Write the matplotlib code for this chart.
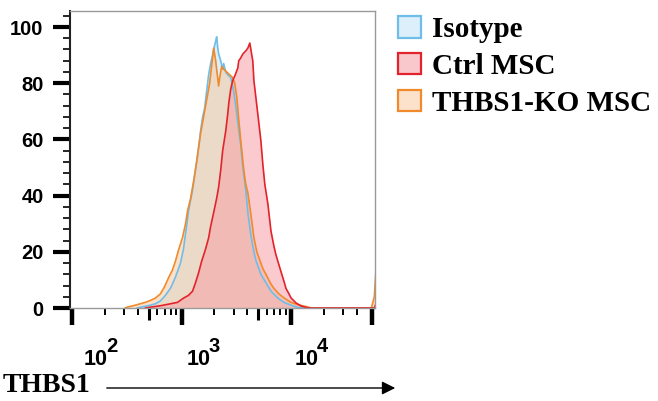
import numpy as np
import matplotlib
matplotlib.use("Agg")
import matplotlib.pyplot as plt
from matplotlib.patches import Patch
from matplotlib.ticker import FixedLocator, MultipleLocator, NullFormatter

# log10 of THBS1 intensity and % of max for each sample
iso_log = [2.596, 2.651, 2.716, 2.761, 2.807, 2.853, 2.899, 2.945, 2.991, 3.018,
           3.046, 3.064, 3.101, 3.128, 3.156, 3.174, 3.193, 3.211, 3.229, 3.248,
           3.266, 3.284, 3.294, 3.312, 3.321, 3.330, 3.339, 3.358, 3.376, 3.385,
           3.404, 3.422, 3.450, 3.477, 3.495, 3.514, 3.541, 3.560, 3.587, 3.606,
           3.633, 3.661, 3.679, 3.725, 3.771, 3.817, 3.881, 3.936, 4.000, 4.064,
           4.138, 4.760, 4.775]
iso_pct = [0, 0.5, 1, 1.5, 2.5, 4.5, 7, 11, 16, 21,
           29, 34.5, 42, 49, 57, 63, 68, 71, 77, 83,
           87, 90, 92, 95, 96.5, 93, 90.5, 88, 85, 87,
           84, 83, 82, 77, 72, 66, 58, 50, 42, 34,
           26, 20, 17, 12, 9, 6, 3.5, 2, 1, 0.2,
           0, 0, 0.5]

ko_log = [2.486, 2.505, 2.578, 2.624, 2.670, 2.716, 2.761, 2.807, 2.844, 2.881,
          2.917, 2.945, 2.972, 3.009, 3.037, 3.055, 3.083, 3.110, 3.138, 3.174,
          3.202, 3.220, 3.239, 3.257, 3.275, 3.294, 3.312, 3.330, 3.339, 3.349,
          3.367, 3.385, 3.413, 3.440, 3.468, 3.486, 3.505, 3.523, 3.541, 3.569,
          3.587, 3.606, 3.633, 3.661, 3.688, 3.706, 3.743, 3.771, 3.817, 3.844,
          3.890, 3.936, 4.000, 4.064, 4.138, 4.183, 4.734, 4.761, 4.775]
ko_pct = [0, 0.3, 1, 1.5, 2, 2.7, 3.5, 5, 7.5, 10.7,
          13.5, 16.7, 20.5, 25, 30, 34.5, 39, 45, 52, 62,
          68, 72, 76, 80, 86, 92.5, 88, 82, 79, 82,
          86, 85, 84, 83, 82, 80, 75, 67, 59.5, 49,
          44, 41, 33.5, 25, 20, 18, 14, 12, 8.5, 7,
          5, 3.6, 2, 1.2, 0.5, 0, 0, 4, 13]

ctrl_log = [2.670, 2.716, 2.807, 2.899, 2.963, 3.018, 3.064, 3.101, 3.128, 3.156,
            3.183, 3.220, 3.248, 3.266, 3.294, 3.321, 3.339, 3.358, 3.376, 3.404,
            3.422, 3.431, 3.450, 3.468, 3.486, 3.514, 3.523, 3.541, 3.560, 3.587,
            3.606, 3.624, 3.642, 3.651, 3.661, 3.679, 3.697, 3.725, 3.743, 3.761,
            3.789, 3.817, 3.844, 3.862, 3.908, 3.936, 3.954, 3.982, 4.000, 4.046,
            4.092, 4.138, 4.183, 4.761, 4.775]
ctrl_pct = [0, 0.3, 0.8, 1.5, 2, 3.5, 4.5, 6, 9, 12.5,
            16.5, 21, 25, 29, 34, 39, 43, 49, 56, 63,
            69, 72.6, 78, 81, 82.5, 85.4, 88, 89, 90.4, 91.5,
            92.5, 94.3, 90, 88, 81, 75, 69, 59.5, 51, 44,
            37, 27.4, 22, 19, 13, 9.5, 7, 5, 3.6, 1.8,
            0.7, 0.2, 0, 0, 1.5]

labels = ["Isotype", "Ctrl MSC", "THBS1-KO MSC"]
decades = [2, 3, 4]

line_cols = ["#6fbde9", "#e3232b", "#f08a2c"]
fill_cols = ["#bfe2f6", "#f7a0a6", "#f9c9a0"]
legend_faces = ["#ddeffa", "#f9c8cd", "#fde2cb"]

sans = "Liberation Sans"
serif = "Liberation Serif"

fig = plt.figure(figsize=(6.58, 4.01), dpi=100)
ax = fig.add_axes([70 / 658, 1 - 308 / 401, 305 / 658, 297 / 401])

series = [(iso_log, iso_pct), (ctrl_log, ctrl_pct), (ko_log, ko_pct)]
# fills first, ctrl fill on top
for i in [0, 2, 1]:
    x = 10 ** np.array(series[i][0])
    y = np.array(series[i][1])
    ax.fill_between(x, y, 0, color=fill_cols[i], alpha=0.55, lw=0)
for i in [0, 2, 1]:
    x = 10 ** np.array(series[i][0])
    ax.plot(x, series[i][1], color=line_cols[i], lw=1.2)

ax.set_xscale("log")
ax.set_xlim(10 ** (2 - 2 / 109.5), 10 ** (2 + 303 / 109.5))
ax.set_ylim(0, 105.7)

# axis frame
ax.spines["left"].set_color("#222222")
ax.spines["left"].set_linewidth(1.5)
for s in ["top", "right", "bottom"]:
    ax.spines[s].set_color("#9a9a9a")
    ax.spines[s].set_linewidth(1.0)

# y ticks
ax.yaxis.set_major_locator(MultipleLocator(20))
ax.yaxis.set_minor_locator(MultipleLocator(4))
ax.tick_params(axis="y", which="major", length=12, width=3, pad=7, direction="out")
ax.tick_params(axis="y", which="minor", length=5, width=1.2, direction="out")
for lab in ax.get_yticklabels():
    lab.set_fontfamily(sans)
    lab.set_fontweight("bold")
    lab.set_fontsize(14.5)

# x ticks
major_x = [10 ** d for d in decades] + [5.5e4]
minor_x = [m * 10 ** d for d in [2, 3, 4] for m in range(2, 10) if m * 10 ** d < 5e4]
ax.xaxis.set_major_locator(FixedLocator(major_x))
ax.xaxis.set_minor_locator(FixedLocator(minor_x))
ax.xaxis.set_major_formatter(NullFormatter())
ax.xaxis.set_minor_formatter(NullFormatter())
ax.tick_params(axis="x", which="major", length=12, width=3.2, direction="out")
ax.tick_params(axis="x", which="minor", length=5, width=1.4, direction="out")
fig.canvas.draw()
for loc, tick in zip(ax.xaxis.get_minorticklocs(), ax.xaxis.get_minor_ticks()):
    if str(int(loc)).startswith("5"):
        tick.tick1line.set_markersize(8.5)
        tick.tick1line.set_markeredgewidth(2.2)

# decade labels, shifted right like the original export
offsets = [12, 5, 4]
for d, dx in zip(decades, offsets):
    ax.annotate("10", xy=(10 ** d, 0), xycoords=("data", "axes fraction"),
                xytext=(dx, -57), textcoords="offset pixels", ha="left",
                va="baseline", fontsize=15.5, fontweight="bold", family=sans)
    ax.annotate(str(d), xy=(10 ** d, 0), xycoords=("data", "axes fraction"),
                xytext=(dx + 22, -44), textcoords="offset pixels", ha="left",
                va="baseline", fontsize=14.5, fontweight="bold", family=sans)

# axis title with arrow
fig.text(3 / 658, 1 - 386 / 401, "THBS1", family=serif, fontweight="bold",
         fontsize=20, ha="left", va="center")
ax.annotate("", xy=(398 / 658, 1 - 388 / 401), xycoords="figure fraction",
            xytext=(104 / 658, 1 - 388 / 401), textcoords="figure fraction",
            arrowprops=dict(arrowstyle="-|>", color="black", lw=1,
                            mutation_scale=20), annotation_clip=False)

handles = [Patch(facecolor=legend_faces[i], edgecolor=line_cols[i], lw=1.6)
           for i in range(3)]
leg = fig.legend(handles, labels, loc="upper left",
                 bbox_to_anchor=(398 / 658, 1 - 16 / 401), frameon=False,
                 borderpad=0, borderaxespad=0, handlelength=0.8,
                 handleheight=0.75, handletextpad=0.35, labelspacing=0.34,
                 prop={"family": serif, "weight": "bold", "size": 21})

fig.savefig("out.png", dpi=100)
